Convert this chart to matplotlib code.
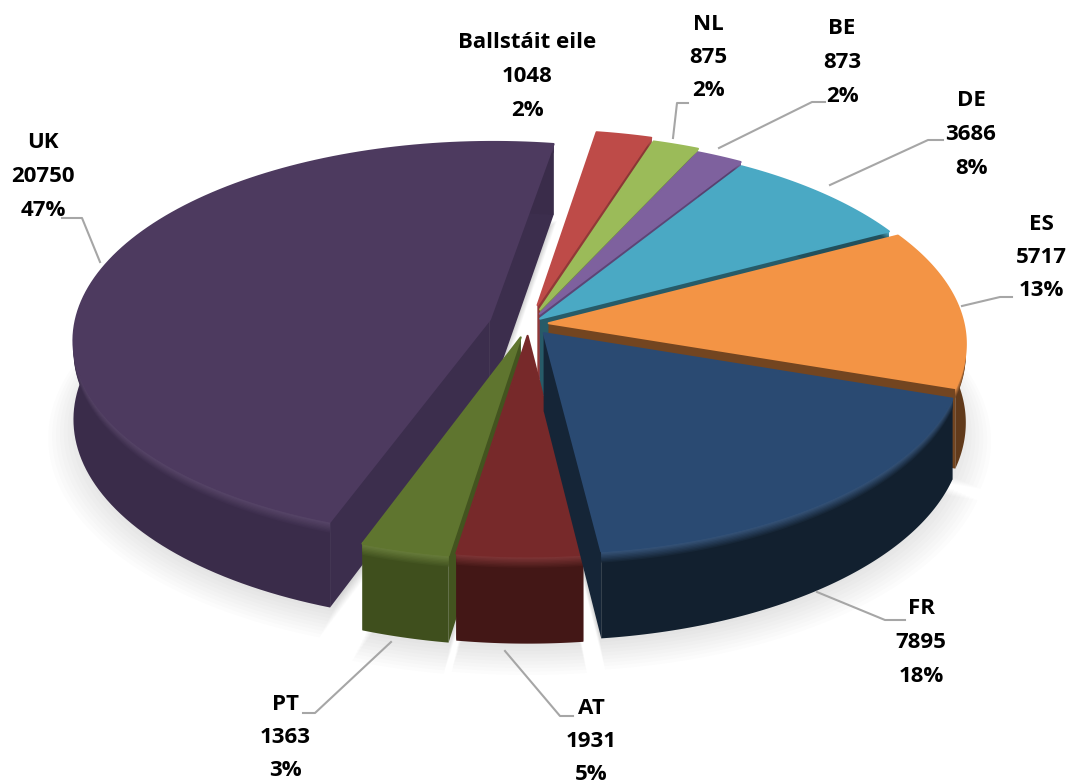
import numpy as np
import matplotlib
matplotlib.use('Agg')
import matplotlib.pyplot as plt
from matplotlib.colors import to_rgb

plt.rcParams['font.family'] = ['Open Sans', 'DejaVu Sans']

# === data, in the chart's clockwise order ===
names = ["Ballstáit eile", "NL", "BE", "DE", "ES", "FR", "AT", "PT", "UK"]
values = [1048, 875, 873, 3686, 5717, 7895, 1931, 1363, 20750]
percents = ["2%", "2%", "2%", "8%", "13%", "18%", "5%", "3%", "47%"]

# === look of the slices ===
top_colors = ["#be4b48", "#9bbb59", "#7e619e", "#4aa9c4", "#f39445", "#2a4a72", "#77292a", "#5f752f", "#4d3a5f"]
wall_colors = ["#8a3735", "#6e8a40", "#574170", "#22505c", "#613a1b", "#12202f", "#431716", "#3f4f1d", "#3a2c4a"]
explode = [0.10, 0.08, 0.06, 0.04, 0.05, 0.06, 0.06, 0.07, 0.095]
draw_order = [0, 1, 2, 3, 4, 8, 7, 6, 5]

START_DEG = 9.2
CX, CY = 528.0, 324.0
RX, RY = 415.0, 196.0
PERSP = 0.10
DEPTH = 78.0

# label centres (x, y of first line) and leader lines, in pixels
label_x = [527, 708, 842, 971, 1041, 921, 591, 285, 43]
label_y = [43, 24, 29, 101, 224, 609, 708, 704, 143]
LINE_STEP = 33.5
leaders = [
    [(673, 138), (677, 103), (688, 103)],
    [(719, 148), (812, 102), (825, 102)],
    [(830, 185), (928, 140), (943, 140)],
    [(962, 306), (1000, 297), (1012, 297)],
    [(817, 592), (885, 620), (905, 620)],
    [(505, 651), (560, 716), (573, 716)],
    [(391, 642), (315, 713), (303, 713)],
    [(100, 262), (82, 218), (62, 218)],
]


def project(u, v, z=0.0):
    s = 1.0 / (1.0 + PERSP * v)
    return CX + RX * u * s, CY - RY * v * s + DEPTH * z * s


def blend(c1, c2, t):
    a, b = np.array(to_rgb(c1)), np.array(to_rgb(c2))
    return tuple(a + (b - a) * t)


def slice_geometry(i, edges):
    t0, t1 = np.radians(edges[i]), np.radians(edges[i + 1])
    mid = (t0 + t1) / 2
    ox, oy = explode[i] * np.sin(mid), explode[i] * np.cos(mid)
    th = np.linspace(t0, t1, 120)
    return ox, oy, ox + np.sin(th), oy + np.cos(th)


fig = plt.figure(figsize=(10.7, 7.8), dpi=100)
ax = fig.add_axes([0, 0, 1, 1])
ax.set_xlim(0, 1070)
ax.set_ylim(780, 0)
ax.axis('off')

total = sum(values)
edges = START_DEG + np.concatenate([[0], np.cumsum(values)]) / total * 360.0

# soft shadow below the pie
for grow, shift in zip(np.linspace(1.06, 0.94, 14), np.linspace(16, 2, 14)):
    for i in range(len(values)):
        ox, oy, ru, rv = slice_geometry(i, edges)
        u = np.concatenate([[ox], ox + (ru - ox) * grow])
        v = np.concatenate([[oy], oy + (rv - oy) * grow])
        x, y = project(u, v, 1.0)
        ax.fill(x, y + shift, color='black', alpha=0.011, lw=0, zorder=1)

for n, i in enumerate(draw_order):
    z0 = 10 + n * 10
    ox, oy, ru, rv = slice_geometry(i, edges)
    wall = wall_colors[i]
    top = top_colors[i]

    # the two cut faces
    for u_end, v_end in [(ru[0], rv[0]), (ru[-1], rv[-1])]:
        xa, ya = project(ox, oy)
        xb, yb = project(u_end, v_end)
        xc, yc = project(u_end, v_end, 1.0)
        xd, yd = project(ox, oy, 1.0)
        ax.fill([xa, xb, xc, xd], [ya, yb, yc, yd], color=blend(wall, top, 0.12), lw=0, zorder=z0)

    # outer face, lighter towards the rim
    x_up, y_up = project(ru, rv)
    x_dn, y_dn = project(ru, rv, 1.0)
    ax.fill(np.r_[x_up, x_dn[::-1]], np.r_[y_up, y_dn[::-1]], color=wall, lw=0, zorder=z0 + 1)
    light = blend(top, 'white', 0.06)
    for k in range(8):
        f = 0.13 * (1 - k / 8)
        x_f, y_f = project(ru, rv, f)
        ax.fill(np.r_[x_up, x_f[::-1]], np.r_[y_up, y_f[::-1]],
                color=blend(wall, light, (k + 1) / 8), lw=0, zorder=z0 + 2)

    # top face
    x_top, y_top = project(np.r_[ox, ru], np.r_[oy, rv])
    ax.fill(x_top, y_top, color=top, ec=top, lw=1.5, joinstyle='round', zorder=z0 + 3)

for pts in leaders:
    ax.plot([p[0] for p in pts], [p[1] for p in pts], color='#a6a6a6', lw=1.5, zorder=200)

for i in range(len(values)):
    lines = [names[i], str(values[i]), percents[i]]
    for j, line in enumerate(lines):
        ax.text(label_x[i], label_y[i] + j * LINE_STEP, line, ha='center', va='center',
                fontsize=16, fontweight='bold', color='black', zorder=210)

fig.savefig('out.png', dpi=100)
